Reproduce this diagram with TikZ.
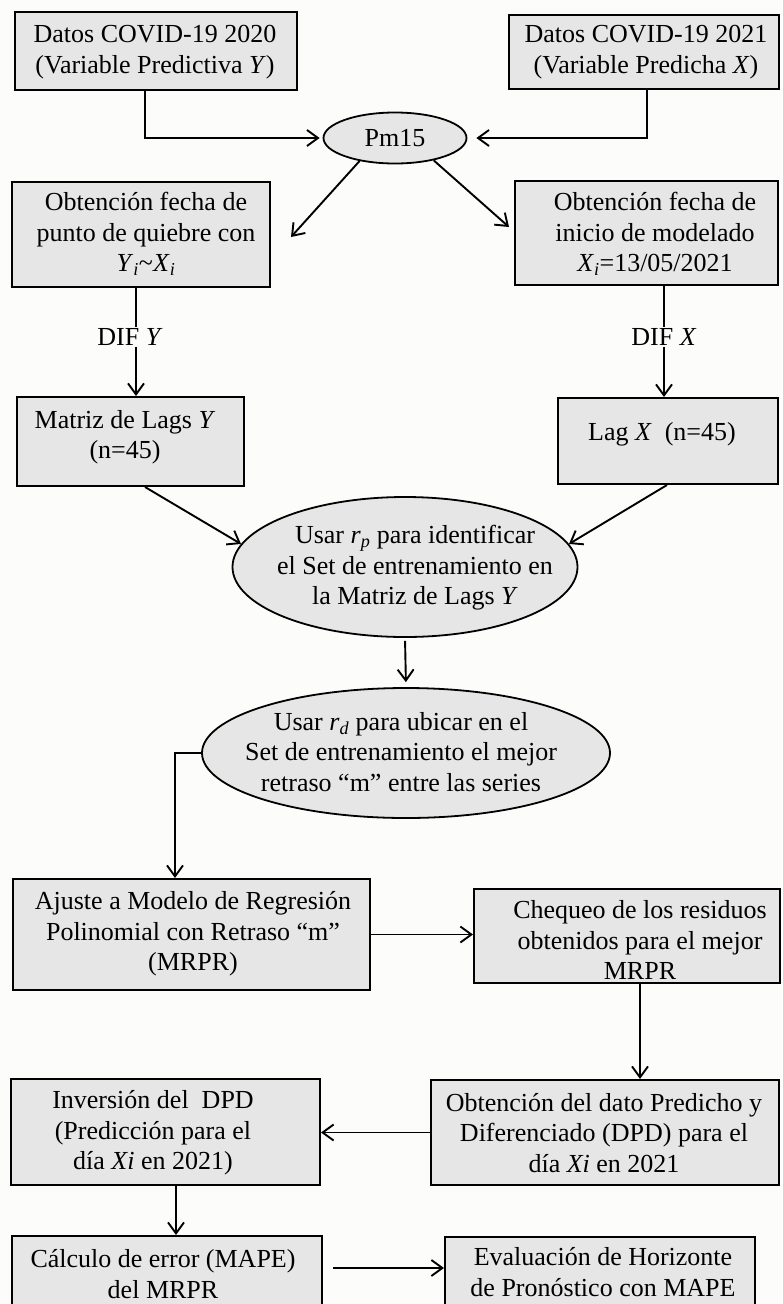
\documentclass[tikz,border=0pt]{standalone}
\usepackage{fontspec}
\setmainfont{Liberation Serif}
\usetikzlibrary{arrows.meta,shapes.geometric}
\definecolor{boxfill}{RGB}{230,230,230}
\definecolor{bgcol}{RGB}{252,252,250}
\begin{document}
\begin{tikzpicture}[x=1pt,y=-1pt,
  box/.style={draw=black, line width=2pt, fill=boxfill, inner sep=0pt},
  ell/.style={ellipse, draw=black, line width=1.8pt, fill=boxfill, inner sep=0pt},
  txt/.style={align=center, inner sep=1pt, font=\fontsize{26}{30.5}\selectfont},
  con/.style={line width=1.9pt},
  arr/.style={con, -{Straight Barb[length=11pt,width=16pt]}}]
\useasboundingbox (0,0) rectangle (782,1304);
\fill[bgcol] (0,0) rectangle (782,1304);
\clip (0,0) rectangle (782,1304);

% boxes and ellipses
\node[box, minimum width=282pt, minimum height=78pt] (b1) at (156,51) {};
\node[box, minimum width=270pt, minimum height=74pt] (b2) at (644,52) {};
\node[ell, minimum width=143pt, minimum height=51pt, font=\fontsize{26}{30.5}\selectfont] (pm) at (395,138) {Pm15};
\node[box, minimum width=258pt, minimum height=105pt] (b3) at (141,234.5) {};
\node[box, minimum width=263pt, minimum height=104pt] (b4) at (646.5,233) {};
\node[box, minimum width=227pt, minimum height=89pt] (b5) at (130.5,441.5) {};
\node[box, minimum width=220pt, minimum height=86pt] (b6) at (668,441) {};
\node[ell, minimum width=345pt, minimum height=140pt] (e2) at (405,567) {};
\node[ell, minimum width=408pt, minimum height=130pt] (e3) at (406,753) {};
\node[box, minimum width=357pt, minimum height=111pt] (b7) at (191.5,934.5) {};
\node[box, minimum width=306pt, minimum height=94pt] (b8) at (627,936) {};
\node[box, minimum width=348pt, minimum height=105pt] (b9) at (605,1132.5) {};
\node[box, minimum width=309pt, minimum height=106pt] (b10) at (165.5,1132) {};
\node[box, minimum width=310pt, minimum height=84pt] (b11) at (167,1278) {};
\node[box, minimum width=310pt, minimum height=84pt] (b12) at (600,1279) {};

% texts
\node[txt] (b1t) at (155,52) {Datos COVID-19 2020\\(Variable Predictiva \textit{Y})};
\node[txt] (b2t) at (646,52) {Datos COVID-19 2021\\(Variable Predicha \textit{X})};
\node[txt] (b3t) at (146,234) {Obtención fecha de\\punto de quiebre con\\\textit{Y}\textsubscript{\textit{i}}\textasciitilde\textit{X}\textsubscript{\textit{i}}};
\node[txt] (b4t) at (655,234) {Obtención fecha de\\inicio de modelado\\\textit{X}\textsubscript{\textit{i}}=13/05/2021};
\node[txt] (dify) at (130,337) {DIF \textit{Y}};
\node[txt] (difx) at (664,337) {DIF \textit{X}};
\node[txt] (b5t) at (125,437) {Matriz de Lags \textit{Y}\\(n=45)};
\node[txt] (b6t) at (662,434) {Lag \textit{X}\ \ (n=45)};
\node[txt] (e2t) at (415,568) {Usar \textit{r}\textsubscript{\textit{p}} para identificar\\el Set de entrenamiento en\\la Matriz de Lags \textit{Y}};
\node[txt] (e3t) at (401,752) {Usar \textit{r}\textsubscript{\textit{d}} para ubicar en el\\Set de entrenamiento el mejor\\retraso “m” entre las series};
\node[txt] (b7t) at (193,934) {Ajuste a Modelo de Regresión\\Polinomial con Retraso “m”\\(MRPR)};
\node[txt] (b8t) at (640,940) {Chequeo de los residuos\\obtenidos para el mejor\\MRPR};
\node[txt] (b9t) at (604,1133) {Obtención del dato Predicho y\\Diferenciado (DPD) para el\\día \textit{Xi} en 2021};
\node[txt] (b10t) at (153,1133) {Inversión del\ \ DPD\\(Predicción para el\\día \textit{Xi} en 2021)};
\node[txt] (b11t) at (163,1274) {Cálculo de error (MAPE)\\del MRPR};
\node[txt] (b12t) at (603,1272) {Evaluación de Horizonte\\de Pronóstico con MAPE};

% helper coordinates
\coordinate (xl) at (136,0);
\coordinate (xr) at (664,0);
\coordinate (xc) at (640,0);
\coordinate (xd) at (176,0);
\coordinate (yb) at (0,1268);

% connectors
\draw[arr, shorten >=3pt] ([xshift=-11pt]b1.south) |- (pm.west);
\draw[arr, shorten >=9pt] ([xshift=3pt]b2.south) |- (pm.east);
\draw[arr] (pm.-147) -- ([xshift=20pt,yshift=-2.5pt]b3.east);
\draw[arr] (pm.-30) -- ([xshift=-5pt,yshift=6pt]b4.west);
\draw[con] (b3.south -| xl) -- (dify.north -| xl);
\draw[arr] (dify.south -| xl) -- (b5.north -| xl);
\draw[con] (b4.south -| xr) -- (difx.north -| xr);
\draw[arr] (difx.south -| xr) -- (b6.north -| xr);
\draw[arr] ([xshift=14.5pt]b5.south) -- (e2.172);
\draw[arr] ([xshift=-1pt]b6.south) -- (e2.8);
\draw[arr, shorten <=3pt, shorten >=5pt] (e2.south) -- (e3.north);
\draw[arr] (e3.west) -| ([xshift=-16.5pt]b7.north);
\draw[arr] (b7.east) -- (b7.east -| b8.west);
\draw[arr] (b8.south -| xc) -- (b9.north -| xc);
\draw[arr] (b9.west) -- (b9.west -| b10.east);
\draw[arr] (b10.south -| xd) -- (b11.north -| xd);
\path (b11.east |- yb) ++(10,0) coordinate (s12);
\draw[arr] (s12) -- (b12.west |- yb);
\end{tikzpicture}
\end{document}
